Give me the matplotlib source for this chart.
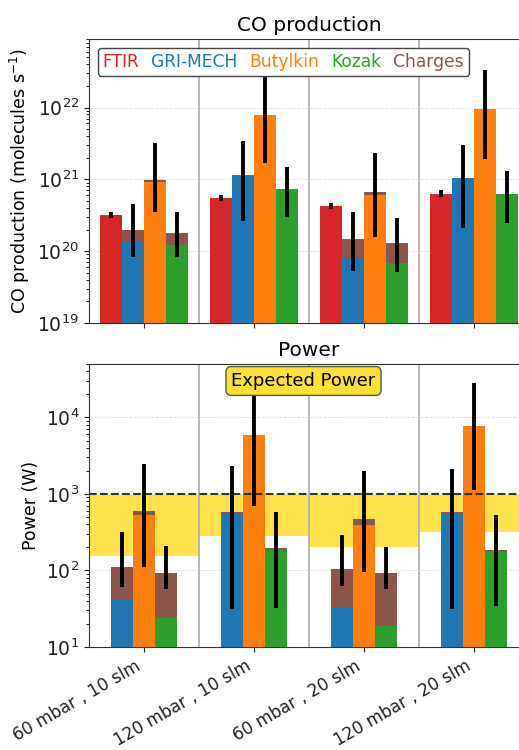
import numpy as np
import matplotlib
matplotlib.use("Agg")
import matplotlib.pyplot as plt

conditions = ["60 mbar , 10 slm", "120 mbar , 10 slm", "60 mbar , 20 slm", "120 mbar , 20 slm"]

# CO production (molecules/s)
co_ftir = [3.2e20, 5.5e20, 4.25e20, 6.3e20]
co_ftir_err = [[2.9e20, 5.0e20, 3.85e20, 5.7e20], [3.5e20, 6.0e20, 4.7e20, 7.0e20]]
co_gri = [1.4e20, 1.16e21, 8.4e19, 1.04e21]
co_gri_tot = [2.0e20, 1.16e21, 1.48e20, 1.04e21]
co_gri_err = [[8.4e19, 2.6e20, 5.3e19, 2.1e20], [4.5e20, 3.45e21, 3.5e20, 3.0e21]]
co_buty = [9.1e20, 7.8e21, 6.0e20, 9.4e21]
co_buty_tot = [9.9e20, 7.8e21, 6.6e20, 9.4e21]
co_buty_err = [[3.5e20, 1.7e21, 1.6e20, 1.9e21], [3.2e21, 2.85e22, 2.3e21, 3.3e22]]
co_kozak = [1.2e20, 7.4e20, 6.9e19, 6.2e20]
co_kozak_tot = [1.8e20, 7.4e20, 1.32e20, 6.2e20]
co_kozak_err = [[8.3e19, 3.0e20, 5.1e19, 2.5e20], [3.5e20, 1.5e21, 2.9e20, 1.29e21]]

# Power (W)
pw_gri = [42, 568, 33, 568]
pw_gri_tot = [111, 575, 106, 575]
pw_gri_err = [[60, 31, 62, 31], [316, 2340, 290, 2110]]
pw_buty = [528, 5860, 395, 7680]
pw_buty_tot = [596, 5860, 465, 7680]
pw_buty_err = [[111, 690, 96, 1130], [2500, 25000, 1990, 28000]]
pw_kozak = [24, 186, 19, 177]
pw_kozak_tot = [94, 195, 93, 186]
pw_kozak_err = [[57, 32, 57, 34], [210, 583, 204, 535]]

expected_low = [155, 279, 204, 314]
expected_high = 1000

x = np.arange(len(conditions))
w = 0.195

fig = plt.figure(figsize=(5.19, 7.5), dpi=100)
ax1 = fig.add_axes([89/519, 1-323/750, 440/519, (323-39)/750])
ax2 = fig.add_axes([89/519, 1-647/750, 440/519, (647-364)/750])


def bars(ax, pos, val, tot, err, color):
    if tot is not None:
        ax.bar(pos, tot, w, color="tab:brown", zorder=2)
    ax.bar(pos, val, w, color=color, zorder=2)
    ax.vlines(pos, err[0], err[1], color="black", lw=2.8, zorder=4)


# CO production
bars(ax1, x - 0.3, co_ftir, None, co_ftir_err, "tab:red")
bars(ax1, x - 0.1, co_gri, co_gri_tot, co_gri_err, "tab:blue")
bars(ax1, x + 0.1, co_buty, co_buty_tot, co_buty_err, "tab:orange")
bars(ax1, x + 0.3, co_kozak, co_kozak_tot, co_kozak_err, "tab:green")
ax1.set_yscale("log")
ax1.set_ylim(1e19, 9e22)
ax1.set_title("CO production", fontsize=14.5)
ax1.set_ylabel("CO production (molecules s$^{-1}$)", fontsize=12.5)

# legend with coloured text only
names = ["FTIR", "GRI-MECH", "Butylkin", "Kozak", "Charges"]
cols = ["tab:red", "tab:blue", "tab:orange", "tab:green", "tab:brown"]
handles = [plt.Line2D([], [], color=c, lw=0) for c in cols]
leg = ax1.legend(handles, names, ncol=5, loc="upper left", handlelength=0, handletextpad=0,
                 columnspacing=0.7, labelcolor=cols, fontsize=12.3, framealpha=1,
                 borderpad=0.3, bbox_to_anchor=(0.0, 1.0))
leg.get_frame().set_edgecolor("#444444")

# Power
for i in range(len(conditions)):
    ax2.fill_between([i - 0.5, i + 0.5], expected_low[i], expected_high,
                     color="#FFD700", alpha=0.7, lw=0, zorder=1)
ax2.axhline(expected_high, color="#333333", ls="--", lw=1.5, zorder=3)
bars(ax2, x - 0.2, pw_gri, pw_gri_tot, pw_gri_err, "tab:blue")
bars(ax2, x, pw_buty, pw_buty_tot, pw_buty_err, "tab:orange")
bars(ax2, x + 0.2, pw_kozak, pw_kozak_tot, pw_kozak_err, "tab:green")
ax2.set_yscale("log")
ax2.set_ylim(10, 5e4)
ax2.set_title("Power", fontsize=14.5)
ax2.set_ylabel("Power (W)", fontsize=12.5)
ax2.text(1.45, 0.94, "Expected Power", transform=ax2.get_xaxis_transform(),
         ha="center", va="center", fontsize=13, zorder=6,
         bbox=dict(boxstyle="round,pad=0.3", facecolor="#FFE033", edgecolor="#555555"))

for ax in (ax1, ax2):
    ax.set_xlim(-0.5, 3.5)
    ax.set_xticks(x)
    for s in x[:-1] + 0.5:
        ax.axvline(s, color="#AAAAAA", lw=1.2, zorder=1)
    ax.grid(axis="y", which="major", ls="--", lw=0.6, color="#DDDDDD", zorder=0)
    ax.tick_params(axis="both", labelsize=13.5, colors="#222222")
    for sp in ax.spines.values():
        sp.set_color("#333333")

ax1.set_xticklabels([])
ax2.set_xticklabels(conditions, rotation=30, ha="right", fontsize=12.2)

fig.savefig("out.png", dpi=100)
